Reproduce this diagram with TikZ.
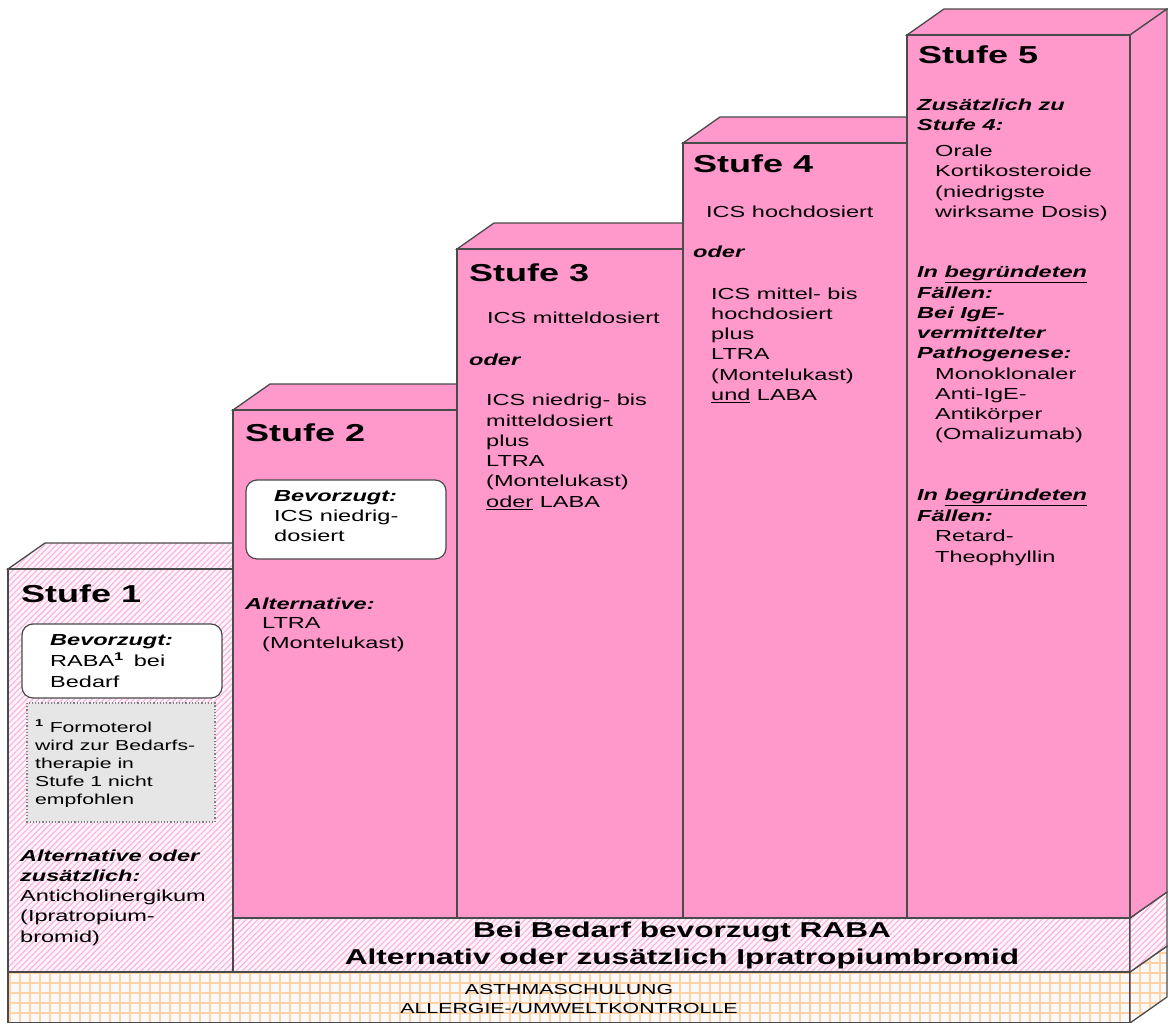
\documentclass[tikz,border=0pt]{standalone}
\usepackage{fontspec}
\setmainfont{Liberation Sans}[FakeStretch=1.47]
\usetikzlibrary{patterns.meta}
\definecolor{pk}{HTML}{FF99CC}
\definecolor{pkl}{HTML}{FFF4FA}
\definecolor{pkh}{HTML}{F9B2DD}
\definecolor{ln}{HTML}{4A4A4A}
\definecolor{gridbg}{HTML}{F9F9F9}
\definecolor{gridln}{HTML}{FFD3A6}
\definecolor{note}{HTML}{E6E6E6}
\newcommand\bi[1]{\textbf{\textit{#1}}}
\newcommand\blk[1]{\begin{tabular}[t]{@{}l@{}}#1\end{tabular}}
\begin{document}
\begin{tikzpicture}[x=1pt,y=-1pt,line join=miter,
  face/.style={draw=ln,line width=1.3pt,fill=pk},
  hatch/.style={draw=ln,line width=1.3pt,preaction={fill=pkl},
    pattern={Lines[angle=45,distance=4.2pt,line width=1.1pt]},pattern color=pkh},
  gridf/.style={draw=ln,line width=1.3pt,preaction={fill=gridbg},
    pattern={Hatch[angle=0,distance=10pt,line width=1.3pt]},pattern color=gridln},
  txt/.style={anchor=base west,inner sep=0pt,font=\fontsize{16}{20.3}\selectfont},
  ttl/.style={anchor=base west,inner sep=0pt,font=\bfseries\fontsize{24.5}{29}\selectfont},
  wbox/.style={draw=ln,line width=1.2pt,fill=white,rounded corners=11pt},
  nbox/.style={draw=gray,dotted,line width=1.2pt,fill=note},
  band/.style={anchor=base,inner sep=0pt,font=\bfseries\fontsize{21.5}{27}\selectfont},
  basetxt/.style={anchor=base,inner sep=0pt,font=\fontsize{14.5}{18}\selectfont}]
\useasboundingbox (0,0) rectangle (1168,1023);
% base band
\draw[gridf] (8,972) rectangle (1130,1023);
\draw[gridf] (1130,972) -- (1167,946) -- (1167,997) -- (1130,1023) -- cycle;
% Stufe 1
\draw[hatch] (8,569) -- (45,543) -- (270,543) -- (233,569) -- cycle;
\draw[hatch] (8,569) rectangle (233,972);
% RABA band
\draw[hatch] (233,918) rectangle (1130,972);
\draw[hatch] (1130,918) -- (1167,892) -- (1167,946) -- (1130,972) -- cycle;
% Stufe 2
\draw[face] (233,410) -- (270,384) -- (494,384) -- (457,410) -- cycle;
\draw[face] (233,410) rectangle (457,918);
% Stufe 3
\draw[face] (457,249) -- (494,223) -- (720,223) -- (683,249) -- cycle;
\draw[face] (457,249) rectangle (683,918);
% Stufe 4
\draw[face] (683,143) -- (720,117) -- (944,117) -- (907,143) -- cycle;
\draw[face] (683,143) rectangle (907,918);
% Stufe 5
\draw[face] (907,35) -- (944,9) -- (1167,9) -- (1130,35) -- cycle;
\draw[face] (1130,35) -- (1167,9) -- (1167,892) -- (1130,918) -- cycle;
\draw[face] (907,35) rectangle (1130,918);

% Stufe 1 texts
\node[ttl] (t1) at (21,602) {Stufe 1};
\draw[wbox] (22,624) rectangle (222,698);
\node[txt,font=\fontsize{16}{21}\selectfont] (b1) at (50,645.5)
  {\blk{\bi{Bevorzugt:}\\RABA\textsuperscript{\bfseries 1}\hspace{10pt}bei\\Bedarf}};
\draw[nbox] (27,703) rectangle (215,822);
\node[txt,font=\fontsize{14.4}{18}\selectfont] (n1) at (35,732)
  {\blk{\textsuperscript{\bfseries 1} Formoterol\\wird zur Bedarfs-\\therapie in\\Stufe 1 nicht\\empfohlen}};
\node[txt] (a1) at (20,861)
  {\blk{\bi{Alternative oder}\\\bi{zusätzlich:}\\Anticholinergikum\\(Ipratropium-\\bromid)}};

% Stufe 2 texts
\node[ttl] (t2) at (245,441) {Stufe 2};
\draw[wbox] (246,480) rectangle (446,559);
\node[txt] (b2) at (274,501) {\blk{\bi{Bevorzugt:}\\ICS niedrig-\\dosiert}};
\node[txt] (a2) at (245,609) {\bi{Alternative:}};
\node[txt] (c2) at (262,628.5) {\blk{LTRA\\(Montelukast)}};

% Stufe 3 texts
\node[ttl] (t3) at (469,281) {Stufe 3};
\node[txt] (i3) at (487,323) {ICS mitteldosiert};
\node[txt] (o3) at (469,365) {\bi{oder}};
\node[txt] (c3) at (486,405.7)
  {\blk{ICS niedrig- bis\\mitteldosiert\\plus\\LTRA\\(Montelukast)\\\underline{oder} LABA}};

% Stufe 4 texts
\node[ttl] (t4) at (693,172.7) {Stufe 4};
\node[txt] (i4) at (706,217) {ICS hochdosiert};
\node[txt] (o4) at (693,257) {\bi{oder}};
\node[txt] (c4) at (711,299)
  {\blk{ICS mittel- bis\\hochdosiert\\plus\\LTRA\\(Montelukast)\\\underline{und} LABA}};

% Stufe 5 texts
\node[ttl] (t5) at (918,63) {Stufe 5};
\node[txt] (z5) at (917,110) {\blk{\bi{Zusätzlich zu}\\\bi{Stufe 4:}}};
\node[txt] (k5) at (935,156.5) {\blk{Orale\\Kortikosteroide\\(niedrigste\\wirksame Dosis)}};
\node[txt] (f5) at (917,277.7)
  {\blk{\bi{In \underline{begründeten}}\\\bi{Fällen:}\\\bi{Bei IgE-}\\\bi{vermittelter}\\\bi{Pathogenese:}}};
\node[txt] (m5) at (935,379) {\blk{Monoklonaler\\Anti-IgE-\\Antikörper\\(Omalizumab)}};
\node[txt] (g5) at (917,500.7) {\blk{\bi{In \underline{begründeten}}\\\bi{Fällen:}}};
\node[txt] (r5) at (935,541.7) {\blk{Retard-\\Theophyllin}};

% band texts
\node[band] (r1) at (682,937) {Bei Bedarf bevorzugt RABA};
\node[band] (r2) at (682,964) {Alternativ oder zusätzlich Ipratropiumbromid};
% base texts
\node[basetxt] (m1) at (569,994) {ASTHMASCHULUNG};
\node[basetxt] (m2) at (569,1013) {ALLERGIE-/UMWELTKONTROLLE};
\end{tikzpicture}
\end{document}
